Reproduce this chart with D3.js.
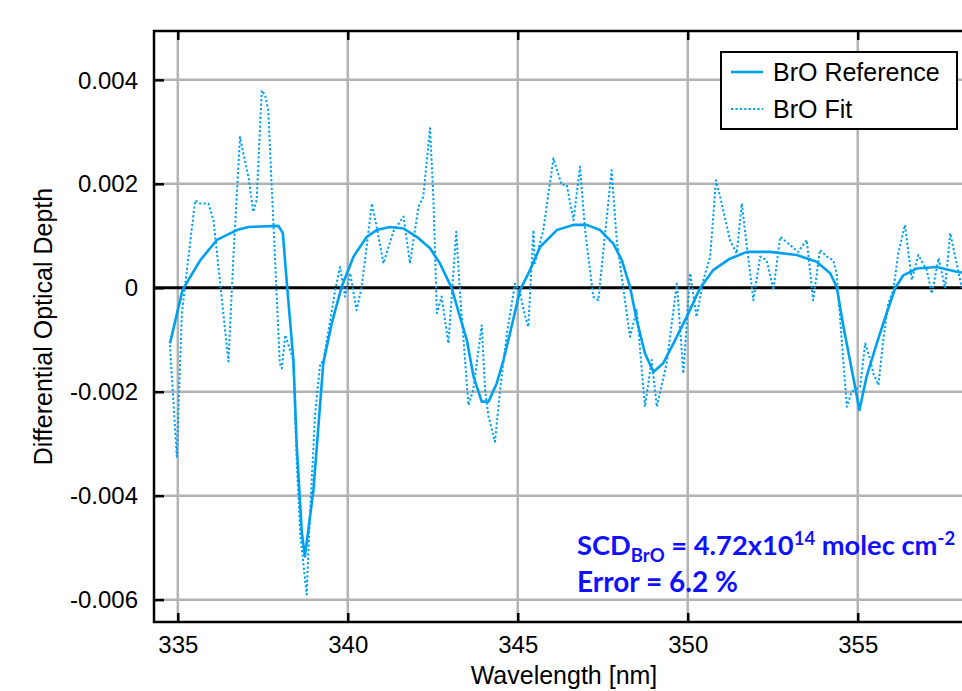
<!DOCTYPE html>
<html>
<head>
<meta charset="utf-8">
<script src="https://cdn.jsdelivr.net/npm/d3@7"></script>
<style>
  html, body { margin: 0; padding: 0; background: #fff; }
  svg { display: block; }
</style>
</head>
<body>
<svg id="chart" width="962" height="691"></svg>
<script>
// ---------------- DATA ----------------
const xTicks = [335, 340, 345, 350, 355];
const xGrid = [335, 340, 345, 350, 355, 360];
const yTicks = [-0.006, -0.004, -0.002, 0, 0.002, 0.004];
const yTickLabels = ["-0.006", "-0.004", "-0.002", "0", "0.002", "0.004"];

const refWl = [334.77,335.14,335.66,336.15,336.74,337.08,337.96,338.09,338.20,338.40,338.50,338.65,338.74,338.99,339.28,339.53,339.82,340.17,340.56,340.85,341.24,341.64,342.03,342.42,342.71,343.06,343.30,343.50,343.70,343.94,344.14,344.38,344.58,344.77,345.07,345.36,345.66,346.15,346.64,347.03,347.42,347.81,348.06,348.30,348.50,348.74,348.99,349.28,349.58,349.97,350.36,350.75,351.24,351.74,352.42,353.21,353.79,354.19,354.38,354.58,354.77,354.92,355.05,355.26,355.56,355.85,356.10,356.34,356.74,357.32,357.91,358.40];
const refOD = [-0.00107,-0.00004,0.00053,0.00092,0.00111,0.00117,0.00119,0.00105,0.00015,-0.00139,-0.00306,-0.00472,-0.00517,-0.00389,-0.00145,-0.00068,0.00002,0.00060,0.00098,0.00111,0.00117,0.00114,0.00098,0.00076,0.00047,-0.00001,-0.00056,-0.00100,-0.00171,-0.00219,-0.00219,-0.00184,-0.00139,-0.00088,-0.00004,0.00034,0.00079,0.00111,0.00121,0.00121,0.00111,0.00085,0.00053,0.00002,-0.00062,-0.00126,-0.00162,-0.00145,-0.00107,-0.00056,-0.00001,0.00034,0.00056,0.00069,0.00069,0.00063,0.00050,0.00028,0.00002,-0.00075,-0.00139,-0.00190,-0.00235,-0.00171,-0.00107,-0.00049,-0.00001,0.00024,0.00037,0.00040,0.00031,0.00026];

const fitWl = [334.77,334.97,335.12,335.51,335.66,335.90,336.05,336.49,336.64,336.83,336.93,337.08,337.22,337.32,337.47,337.57,337.66,338.00,338.06,338.16,338.40,338.50,338.60,338.79,338.89,339.04,339.19,339.28,339.63,339.77,339.92,340.07,340.26,340.41,340.71,340.85,341.05,341.34,341.64,341.83,342.08,342.22,342.42,342.52,342.62,342.76,342.96,343.19,343.30,343.55,343.69,343.94,344.04,344.14,344.33,344.48,344.68,344.92,345.07,345.22,345.31,345.46,345.50,345.75,346.05,346.29,346.44,346.64,346.83,346.98,347.22,347.37,347.76,347.91,348.30,348.50,348.74,348.94,349.09,349.38,349.68,349.87,350.07,350.26,350.46,350.66,350.83,351.00,351.24,351.44,351.59,351.74,351.93,352.13,352.32,352.52,352.72,352.96,353.25,353.50,353.69,353.89,354.09,354.28,354.38,354.53,354.68,354.82,355.07,355.22,355.37,355.46,355.61,355.75,355.90,356.05,356.19,356.39,356.59,356.78,357.03,357.18,357.38,357.57,357.72,357.91,358.06];
const fitOD = [-0.00110,-0.00325,-0.00049,0.00168,0.00162,0.00162,0.00130,-0.00142,0.00066,0.00290,0.00258,0.00213,0.00146,0.00169,0.00380,0.00370,0.00342,-0.00145,-0.00155,-0.00091,-0.00139,-0.00337,-0.00472,-0.00590,-0.00434,-0.00242,-0.00145,-0.00142,-0.00005,0.00040,-0.00017,0.00028,-0.00043,0.00002,0.00162,0.00117,0.00047,0.00108,0.00137,0.00047,0.00156,0.00175,0.00307,0.00169,-0.00049,-0.00017,-0.00107,0.00108,-0.00010,-0.00226,-0.00197,-0.00072,-0.00197,-0.00248,-0.00296,-0.00197,-0.00088,0.00008,-0.00011,-0.00056,-0.00075,0.00111,0.00047,0.00111,0.00249,0.00198,0.00198,0.00130,0.00233,0.00111,-0.00017,-0.00024,0.00226,0.00092,-0.00094,-0.00043,-0.00229,-0.00139,-0.00229,-0.00145,0.00008,-0.00165,0.00028,-0.00056,0.00015,0.00060,0.00207,0.00162,0.00092,0.00066,0.00162,0.00079,-0.00024,0.00060,0.00053,-0.00004,0.00098,0.00085,0.00069,0.00092,-0.00024,0.00073,0.00060,0.00053,0.00028,-0.00101,-0.00229,-0.00200,-0.00190,-0.00107,-0.00139,-0.00165,-0.00187,-0.00101,-0.00030,-0.00004,0.00066,0.00121,0.00015,0.00063,0.00034,-0.00011,0.00057,-0.00001,0.00105,0.00047,0.00000];

const seriesNames = ["BrO Reference", "BrO Fit"];
const xTitle = "Wavelength [nm]";
const yTitle = "Differential Optical Depth";

// ---------------- LAYOUT ----------------
const svg = d3.select("#chart");
const L = 154, T = 31, R = 974, B = 622;
const lineColor = "#00a0f0";
const gridColor = "#b4b4b4";
const font = "Arial, 'Liberation Sans', sans-serif";

const x = d3.scaleLinear().domain([334.3, 358.42]).range([L, R]);
const y = d3.scaleLinear().domain([-0.00643, 0.00494]).range([B, T]);

svg.append("rect").attr("width", 962).attr("height", 691).attr("fill", "#fff");

svg.append("defs").append("clipPath").attr("id", "plotclip")
  .append("rect").attr("x", L).attr("y", T).attr("width", R - L).attr("height", B - T);

// gridlines
const grid = svg.append("g");
grid.selectAll("line.vx").data(xGrid).join("line")
  .attr("x1", d => x(d)).attr("x2", d => x(d)).attr("y1", T).attr("y2", B)
  .attr("stroke", gridColor).attr("stroke-width", 2.5);
grid.selectAll("line.hy").data(yTicks.filter(d => d !== 0)).join("line")
  .attr("x1", L).attr("x2", R).attr("y1", d => y(d)).attr("y2", d => y(d))
  .attr("stroke", gridColor).attr("stroke-width", 2.5);

// zero line
svg.append("line").attr("x1", L).attr("x2", R).attr("y1", y(0)).attr("y2", y(0))
  .attr("stroke", "#000").attr("stroke-width", 3);

// data lines
const refData = refWl.map((w, i) => [w, refOD[i]]);
const fitData = fitWl.map((w, i) => [w, fitOD[i]]);
const line = d3.line().x(d => x(d[0])).y(d => y(d[1]));
const plotG = svg.append("g").attr("clip-path", "url(#plotclip)");
plotG.append("path").datum(fitData).attr("d", line)
  .attr("fill", "none").attr("stroke", lineColor).attr("stroke-width", 2)
  .attr("stroke-dasharray", "2.2,2.2").attr("stroke-linejoin", "round");
plotG.append("path").datum(refData).attr("d", line)
  .attr("fill", "none").attr("stroke", lineColor).attr("stroke-width", 2.6)
  .attr("stroke-linejoin", "round");

// axes
const yAxis = d3.axisLeft(y).tickValues(yTicks).tickSize(-10).tickPadding(16)
  .tickFormat((d, i) => yTickLabels[i]);
const gy = svg.append("g").attr("transform", `translate(${L},0)`).call(yAxis);
gy.select(".domain").remove();
gy.selectAll(".tick line").attr("stroke", "#000").attr("stroke-width", 2.5);
gy.selectAll(".tick text").attr("font-family", font).attr("font-size", 24).attr("fill", "#000")
  .attr("dy", "0.34em");

const xAxis = d3.axisBottom(x).tickValues(xTicks).tickSize(-9).tickPadding(14)
  .tickFormat(d3.format("d"));
const gx = svg.append("g").attr("transform", `translate(0,${B})`).call(xAxis);
gx.select(".domain").remove();
gx.selectAll(".tick line").attr("stroke", "#000").attr("stroke-width", 2.5);
gx.selectAll(".tick text").attr("font-family", font).attr("font-size", 24).attr("fill", "#000")
  .attr("dy", "0.71em");

const xTop = d3.axisTop(x).tickValues(xTicks).tickSize(-9).tickFormat("");
const gxt = svg.append("g").attr("transform", `translate(0,${T})`).call(xTop);
gxt.select(".domain").remove();
gxt.selectAll(".tick line").attr("stroke", "#000").attr("stroke-width", 2.5);

// border
svg.append("rect").attr("x", L).attr("y", T).attr("width", R - L).attr("height", B - T)
  .attr("fill", "none").attr("stroke", "#000").attr("stroke-width", 2.5);

// axis titles
svg.append("text").attr("x", (L + R) / 2).attr("y", 684).attr("text-anchor", "middle")
  .attr("font-family", font).attr("font-size", 25).attr("fill", "#000").text(xTitle);
svg.append("text").attr("transform", `translate(52,${(T + B) / 2}) rotate(-90)`)
  .attr("text-anchor", "middle").attr("font-family", font).attr("font-size", 25)
  .attr("fill", "#000").text(yTitle);

// legend
const lg = svg.append("g");
lg.append("rect").attr("x", 721).attr("y", 52).attr("width", 236).attr("height", 77)
  .attr("fill", "#fff").attr("stroke", "#000").attr("stroke-width", 2);
const legY = [72, 109];
seriesNames.forEach((name, i) => {
  lg.append("line").attr("x1", 731).attr("x2", 763).attr("y1", legY[i]).attr("y2", legY[i])
    .attr("stroke", lineColor).attr("stroke-width", i === 0 ? 2.6 : 2)
    .attr("stroke-dasharray", i === 0 ? null : "2.2,2.2");
  lg.append("text").attr("x", 773).attr("y", legY[i]).attr("dy", "0.36em")
    .attr("font-family", font).attr("font-size", 25).attr("fill", "#000").text(name);
});

// annotation
const annFont = "Lato, 'Open Sans', sans-serif";
const annColor = "#1010ff";
const t1 = svg.append("text").attr("x", 577).attr("y", 555)
  .attr("font-family", annFont).attr("font-weight", "bold").attr("font-size", 27.3).attr("fill", annColor);
t1.append("tspan").text("SCD");
t1.append("tspan").attr("font-size", 18.5).attr("dy", 7).text("BrO");
t1.append("tspan").attr("dy", -7).text(" = 4.72x10");
t1.append("tspan").attr("font-size", 18.5).attr("dy", -10).text("14");
t1.append("tspan").attr("dy", 10).text(" molec cm");
t1.append("tspan").attr("font-size", 18.5).attr("dy", -10).text("-2");
svg.append("text").attr("x", 577).attr("y", 592)
  .attr("font-family", annFont).attr("font-weight", "bold").attr("font-size", 28).attr("fill", annColor)
  .text("Error = 6.2 %");
</script>
</body>
</html>
